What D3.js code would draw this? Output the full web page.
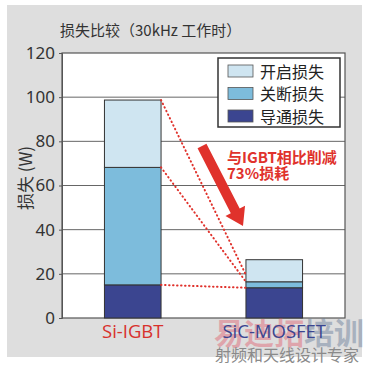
<!DOCTYPE html>
<html>
<head>
<meta charset="utf-8">
<script src="https://cdn.jsdelivr.net/npm/d3@7"></script>
<style>
  body { margin: 0; background: #fff; }
  svg { display: block; }
</style>
</head>
<body>
<div id="viz"></div>
<script>
// loss comparison at 30kHz, two devices, stacked bars
var categories = ["Si-IGBT", "SiC-MOSFET"];
var seriesNames = ["导通损失", "关断损失", "开启损失"];   // bottom -> top
var conduction = [15, 13.7];
var turnOff = [53.2, 2.7];
var turnOn = [30.5, 10.0];
var yTicks = [0, 20, 40, 60, 80, 100, 120];
// dotted guide lines: value on IGBT bar -> value on MOSFET bar
var guideFrom = [98.7, 68.2, 15];
var guideTo = [19.5, 16.4, 13.7];

var W = 369, H = 366;
var font = "'Noto Sans CJK SC', 'Noto Sans', sans-serif";
var colors = {"开启损失": "#cfe5f1", "关断损失": "#7dbcdc", "导通损失": "#3b4590"};
var labelColors = ["#d8312d", "#3b4590"];
var red = "#e0322c";

var svg = d3.select("#viz").append("svg")
    .attr("width", W).attr("height", H);

// grey panel
svg.append("rect")
    .attr("x", 7).attr("y", 5)
    .attr("width", 355).attr("height", 352)
    .attr("fill", "#dedede");

var plot = {left: 62, right: 345, top: 53, bottom: 318};

var x = d3.scaleBand()
    .domain(categories)
    .range([plot.left, plot.right])
    .paddingInner(0.6)
    .paddingOuter(0.3);

var y = d3.scaleLinear()
    .domain([0, 120])
    .range([plot.bottom, plot.top]);

svg.append("rect")
    .attr("x", plot.left).attr("y", plot.top)
    .attr("width", plot.right - plot.left).attr("height", plot.bottom - plot.top)
    .attr("fill", "#fff");

// grid
svg.append("g").selectAll("line")
    .data(yTicks.slice(1, -1))
    .join("line")
    .attr("x1", plot.left).attr("x2", plot.right)
    .attr("y1", d => y(d)).attr("y2", d => y(d))
    .attr("stroke", "#666").attr("stroke-width", 1);

// y axis
var yAxis = svg.append("g")
    .attr("transform", "translate(" + plot.left + ",0)")
    .call(d3.axisLeft(y).tickValues(yTicks).tickSize(3).tickPadding(4));
yAxis.select(".domain").attr("stroke", "#555");
yAxis.selectAll(".tick line").attr("stroke", "#555");
yAxis.selectAll("text")
    .attr("font-family", "'Noto Sans', sans-serif")
    .attr("font-size", 17)
    .attr("fill", "#333");

// plot border
svg.append("rect")
    .attr("x", plot.left).attr("y", plot.top)
    .attr("width", plot.right - plot.left).attr("height", plot.bottom - plot.top)
    .attr("fill", "none").attr("stroke", "#555").attr("stroke-width", 1.2);

// stacked bars
var rows = categories.map(function(c, i) {
    return {cat: c, "导通损失": conduction[i], "关断损失": turnOff[i], "开启损失": turnOn[i]};
});
var stack = d3.stack().keys(seriesNames)(rows);

svg.append("g").selectAll("g")
    .data(stack)
    .join("g")
    .attr("fill", d => colors[d.key])
    .selectAll("rect")
    .data(d => d)
    .join("rect")
    .attr("x", d => x(d.data.cat))
    .attr("y", d => y(d[1]))
    .attr("width", x.bandwidth())
    .attr("height", d => y(d[0]) - y(d[1]))
    .attr("stroke", "#333")
    .attr("stroke-width", 1);

// dotted red guides
svg.append("g").selectAll("line")
    .data(guideFrom)
    .join("line")
    .attr("x1", x(categories[0]) + x.bandwidth())
    .attr("y1", d => y(d))
    .attr("x2", x(categories[1]))
    .attr("y2", (d, i) => y(guideTo[i]))
    .attr("stroke", red)
    .attr("stroke-width", 2)
    .attr("stroke-linecap", "round")
    .attr("stroke-dasharray", "0.5,3.5");

// legend
var legend = svg.append("g");
legend.append("rect")
    .attr("x", 218).attr("y", 58).attr("width", 122).attr("height", 69)
    .attr("fill", "#fff").attr("stroke", "#333").attr("stroke-width", 1.5);
var legendItems = seriesNames.slice().reverse();
legend.selectAll("g")
    .data(legendItems)
    .join("g")
    .attr("transform", (d, i) => "translate(228," + (65 + i * 22.5) + ")")
    .each(function(d) {
        var g = d3.select(this);
        g.append("rect")
            .attr("width", 25).attr("height", 12)
            .attr("fill", colors[d]).attr("stroke", "#555").attr("stroke-width", 0.8);
        g.append("text")
            .attr("x", 32).attr("y", 12.5)
            .attr("font-family", font).attr("font-size", 16)
            .attr("fill", "#222")
            .text(d);
    });

// title
svg.append("text")
    .attr("x", 60).attr("y", 36)
    .attr("font-family", font).attr("font-size", 15)
    .attr("fill", "#333")
    .text("损失比较（30kHz 工作时）");

// y title
svg.append("text")
    .attr("transform", "translate(32,178) rotate(-90)")
    .attr("text-anchor", "middle")
    .attr("font-family", font).attr("font-size", 17)
    .attr("fill", "#333")
    .text("损失 (W)");

// big red arrow
var a0 = [202, 146], a1 = [243, 226];
var ang = Math.atan2(a1[1] - a0[1], a1[0] - a0[0]);
var len = Math.hypot(a1[0] - a0[0], a1[1] - a0[1]);
var hw = 5, headW = 11, headL = 17;
svg.append("path")
    .attr("transform", "translate(" + a0[0] + "," + a0[1] + ") rotate(" + (ang * 180 / Math.PI) + ")")
    .attr("d", "M0," + (-hw) + "L" + (len - headL) + "," + (-hw) + "L" + (len - headL) + "," + (-headW) +
        "L" + len + ",0L" + (len - headL) + "," + headW + "L" + (len - headL) + "," + hw + "L0," + hw + "Z")
    .attr("fill", red);

svg.append("text")
    .attr("x", 227).attr("y", 163)
    .attr("font-family", font).attr("font-size", 15).attr("font-weight", 600)
    .attr("fill", red)
    .text("与IGBT相比削减");
svg.append("text")
    .attr("x", 227).attr("y", 179)
    .attr("font-family", font).attr("font-size", 15).attr("font-weight", 600)
    .attr("fill", red)
    .text("73%损耗");

// watermark (behind the category labels)
svg.append("text")
    .attr("x", 214).attr("y", 344)
    .attr("font-family", font).attr("font-size", 30).attr("font-weight", "bold")
    .attr("fill", "#e05060").attr("opacity", 0.4)
    .text("易迪拓");
svg.append("text")
    .attr("x", 304).attr("y", 344)
    .attr("font-family", font).attr("font-size", 30).attr("font-weight", "bold")
    .attr("fill", "#5a7090").attr("opacity", 0.4)
    .text("培训");
svg.append("text")
    .attr("x", 215).attr("y", 361)
    .attr("font-family", font).attr("font-size", 16)
    .attr("fill", "#8a8a8a")
    .text("射频和天线设计专家");

// category labels
svg.append("g").selectAll("text")
    .data(categories)
    .join("text")
    .attr("x", d => x(d) + x.bandwidth() / 2)
    .attr("y", 338)
    .attr("text-anchor", "middle")
    .attr("font-family", "'Open Sans', 'Noto Sans', sans-serif")
    .attr("font-size", 18.5)
    .attr("fill", (d, i) => labelColors[i])
    .text(d => d);
</script>
</body>
</html>
